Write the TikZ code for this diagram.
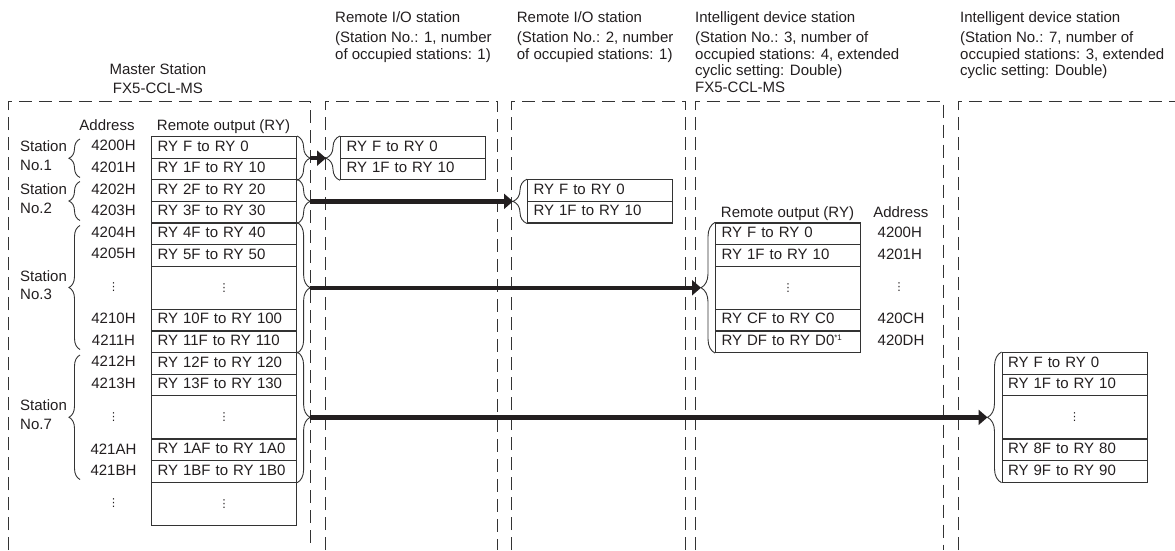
\documentclass[tikz,border=0pt]{standalone}
\usepackage{fontspec}
\setmainfont{Liberation Sans}
\newfontfamily\symfont{DejaVu Sans}
\usetikzlibrary{arrows.meta,decorations.pathreplacing,calc}
\definecolor{lc}{HTML}{333333}
\definecolor{tc}{HTML}{231F20}
\newcommand\myvdots{{\symfont\fontsize{11}{11}\selectfont ⋮}}
\newcommand\mlines[2][l]{\begin{tabular}[t]{@{}#1@{}}#2\end{tabular}}
\tikzset{
  every node/.style={font=\fontsize{15}{18}\selectfont, text=tc},
  cell/.style={draw=lc, line width=1.1pt, anchor=north west, minimum height=21.6pt,
    text width=133pt, inner xsep=6pt, inner ysep=0pt, text height=11pt, text depth=3.5pt, align=left},
  gapcell/.style={draw=lc, line width=1.1pt, anchor=north west, minimum height=43.2pt,
    text width=133pt, inner xsep=6pt, inner ysep=0pt, align=center},
  addr/.style={anchor=base, inner sep=0pt},
  addrw/.style={anchor=base west, inner sep=0pt},
  dotnode/.style={anchor=center, inner sep=0pt},
  hdr/.style={anchor=base west, inner sep=0pt, font=\fontsize{15}{16.5}\selectfont},
  stlabel/.style={anchor=base west, inner sep=0pt, font=\fontsize{15}{18.5}\selectfont},
  dashline/.style={draw=lc, line width=0.9pt, dash pattern=on 13pt off 7pt},
  bracer/.style={draw=lc, line width=0.9pt, decorate, decoration={brace, amplitude=13pt}},
  bracet/.style={draw=lc, line width=0.9pt, decorate, decoration={brace, amplitude=14pt}},
  bracel/.style={draw=lc, line width=0.9pt, decorate, decoration={brace, amplitude=11pt}},
  arr/.style={draw=tc, line width=4.5pt, -{Triangle[length=9pt 0, width=15pt 0]}},
}
\begin{document}
\begin{tikzpicture}[x=1pt, y=-1pt]
\fill[white] (0,0) rectangle (1175,550);
\useasboundingbox (0,0) rectangle (1175,550);

% headers
\node[hdr] (h1) at (335,22.7) {\mlines{Remote I/O station\\[3.5pt](Station No.: 1, number\\of occupied stations: 1)}};
\node[hdr] (h2) at (516.7,22.7) {\mlines{Remote I/O station\\[3.5pt](Station No.: 2, number\\of occupied stations: 1)}};
\node[hdr] (h3) at (695,22.7) {\mlines{Intelligent device station\\[3.5pt](Station No.: 3, number of\\occupied stations: 4, extended\\cyclic setting: Double)\\FX5-CCL-MS}};
\node[hdr] (h7) at (960,22.7) {\mlines{Intelligent device station\\[3.5pt](Station No.: 7, number of\\occupied stations: 3, extended\\cyclic setting: Double)}};
\node[anchor=base, inner sep=0pt, font=\fontsize{15}{19}\selectfont] (hm) at (158,74) {\mlines[c]{Master Station\\FX5-CCL-MS}};

% dashed station frames
\draw[dashline] (8,550) -- (8,101) -- (310,101) -- (310,550);
\draw[dashline] (325,550) -- (325,101) -- (497.7,101) -- (497.7,550);
\draw[dashline] (511,550) -- (511,101) -- (685.7,101) -- (685.7,550);
\draw[dashline] (695.7,550) -- (695.7,101) -- (943,101) -- (943,550);
\draw[dashline] (958,550) -- (958,101) -- (1175,101);

% master table
\node[anchor=base, inner sep=0pt] (ma) at (107,130) {Address};
\node[anchor=base, inner sep=0pt] (mr) at (223.5,130) {Remote output (RY)};
\node[cell] (m1) at (151,136) {RY F to RY 0};
\node[cell] (m2) at (151,157.6) {RY 1F to RY 10};
\node[cell] (m3) at (151,179.2) {RY 2F to RY 20};
\node[cell] (m4) at (151,200.8) {RY 3F to RY 30};
\node[cell] (m5) at (151,222.4) {RY 4F to RY 40};
\node[cell] (m6) at (151,244) {RY 5F to RY 50};
\node[gapcell] (m7) at (151,265.6) {\myvdots};
\node[cell] (m8) at (151,308.8) {RY 10F to RY 100};
\node[cell] (m9) at (151,330.4) {RY 11F to RY 110};
\node[cell] (m10) at (151,352) {RY 12F to RY 120};
\node[cell] (m11) at (151,373.6) {RY 13F to RY 130};
\node[gapcell] (m12) at (151,395.2) {\myvdots};
\node[cell] (m13) at (151,438.4) {RY 1AF to RY 1A0};
\node[cell] (m14) at (151,460) {RY 1BF to RY 1B0};
\node[gapcell] (m15) at (151,481.6) {\myvdots};

\node[addr] (a1) at (113.5,150.8) {4200H};
\node[addr] (a2) at (113.5,172.4) {4201H};
\node[addr] (a3) at (113.5,194) {4202H};
\node[addr] (a4) at (113.5,215.6) {4203H};
\node[addr] (a5) at (113.5,237.2) {4204H};
\node[addr] (a6) at (113.5,258.8) {4205H};
\node[dotnode] (a7) at (113.5,287.2) {\myvdots};
\node[addr] (a8) at (113.5,323.6) {4210H};
\node[addr] (a9) at (113.5,345.2) {4211H};
\node[addr] (a10) at (113.5,366.8) {4212H};
\node[addr] (a11) at (113.5,388.4) {4213H};
\node[dotnode] (a12) at (113.5,416.8) {\myvdots};
\node[addr] (a13) at (113.5,454.2) {421AH};
\node[addr] (a14) at (113.5,475.8) {421BH};
\node[dotnode] (a15) at (113.5,503.2) {\myvdots};

% station labels and left braces
\node[stlabel] (l1) at (20,151.6) {\mlines{Station\\No.1}};
\node[stlabel] (l2) at (20,194.8) {\mlines{Station\\No.2}};
\node[stlabel] (l3) at (20,281.2) {\mlines{Station\\No.3}};
\node[stlabel] (l7) at (20,410.8) {\mlines{Station\\No.7}};
\draw[bracel] (80,177.5) -- (80,139);
\draw[bracel] (80,220.5) -- (80,181.5);
\draw[bracel] (80,349.5) -- (80,225.5);
\draw[bracel] (80,479.5) -- (80,355);

% master right braces
\draw[bracer] (m1.north east) -- (m2.south east);
\draw[bracer] (m3.north east) -- (m4.south east);
\draw[bracer] (m5.north east) -- (m9.south east);
\draw[bracer] (m10.north east) -- (m14.south east);

% station 1 table
\node[cell] (s1a) at (340,136) {RY F to RY 0};
\node[cell] (s1b) at (340,157.6) {RY 1F to RY 10};
% station 2 table
\node[cell] (s2a) at (527,179.2) {RY F to RY 0};
\node[cell] (s2b) at (527,200.8) {RY 1F to RY 10};
% station 3 table
\node[anchor=base, inner sep=0pt] (s3r) at (787.5,217) {Remote output (RY)};
\node[anchor=base, inner sep=0pt] (s3ad) at (900.8,217) {Address};
\node[cell] (s3a) at (715,222.4) {RY F to RY 0};
\node[cell] (s3b) at (715,244) {RY 1F to RY 10};
\node[gapcell] (s3c) at (715,265.6) {\myvdots};
\node[cell] (s3d) at (715,308.8) {RY CF to RY C0};
\node[cell] (s3e) at (715,330.4) {RY DF to RY D0\raisebox{5pt}{\fontsize{8}{8}\selectfont *1}};
\node[addrw] (b1) at (877.5,237.4) {4200H};
\node[addrw] (b2) at (877.5,259) {4201H};
\node[dotnode] (b3) at (899,287.2) {\myvdots};
\node[addrw] (b4) at (877.5,323.8) {420CH};
\node[addrw] (b5) at (877.5,345.4) {420DH};
% station 7 table
\node[cell] (s7a) at (1001.5,352) {RY F to RY 0};
\node[cell] (s7b) at (1001.5,373.6) {RY 1F to RY 10};
\node[gapcell] (s7c) at (1001.5,395.2) {\myvdots};
\node[cell] (s7d) at (1001.5,438.4) {RY 8F to RY 80};
\node[cell] (s7e) at (1001.5,460) {RY 9F to RY 90};

% target braces
\draw[bracet] (s1b.south west) -- (s1a.north west);
\draw[bracet] (s2b.south west) -- (s2a.north west);
\draw[bracet] (s3e.south west) -- (s3a.north west);
\draw[bracet] (s7e.south west) -- (s7a.north west);

% brace tips
\coordinate (mt1) at ($(m1.north east)!0.5!(m2.south east)+(13,0)$);
\coordinate (mt2) at ($(m3.north east)!0.5!(m4.south east)+(13,0)$);
\coordinate (mt3) at ($(m5.north east)!0.5!(m9.south east)+(13,0)$);
\coordinate (mt7) at ($(m10.north east)!0.5!(m14.south east)+(13,0)$);
\coordinate (st1) at ($(s1a.north west)!0.5!(s1b.south west)+(-14,0)$);
\coordinate (st2) at ($(s2a.north west)!0.5!(s2b.south west)+(-14,0)$);
\coordinate (st3) at ($(s3a.north west)!0.5!(s3e.south west)+(-14,0)$);
\coordinate (st7) at ($(s7a.north west)!0.5!(s7e.south west)+(-14,0)$);

% arrows
\draw[arr] (mt1) -- (st1);
\draw[arr] (mt2) -- (st2);
\draw[arr] (mt3) -- (st3);
\draw[arr] (mt7) -- (st7);
\end{tikzpicture}
\end{document}
